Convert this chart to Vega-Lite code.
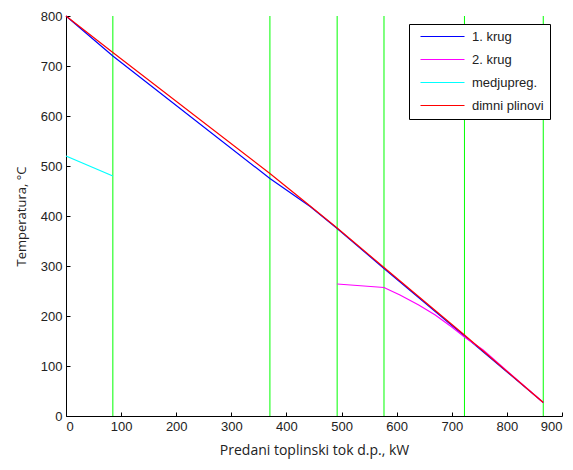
{
  "$schema": "https://vega.github.io/schema/vega-lite/v6.json",
  "width": 496,
  "height": 400,
  "autosize": "none",
  "padding": {"left": 66, "top": 16, "right": 11, "bottom": 54},
  "background": "white",
  "config": {
    "view": {"stroke": null},
    "font": "Liberation Sans",
    "axis": {"grid": false, "domainColor": "black", "tickColor": "black", "labelColor": "#222222", "labelFont": "Liberation Sans", "labelFontSize": 13, "titleFont": "Open Sans", "titleFontWeight": "normal", "titleColor": "#222222", "titleFontSize": 13}
  },
  "datasets": {
    "lines": [
      {"series": "1. krug", "x": 0, "y": 800},
      {"series": "1. krug", "x": 85, "y": 720},
      {"series": "1. krug", "x": 370, "y": 475},
      {"series": "1. krug", "x": 443, "y": 419},
      {"series": "1. krug", "x": 492, "y": 375},
      {"series": "1. krug", "x": 577, "y": 295},
      {"series": "1. krug", "x": 723, "y": 160},
      {"series": "1. krug", "x": 866, "y": 27},
      {"series": "2. krug", "x": 492, "y": 264},
      {"series": "2. krug", "x": 577, "y": 257},
      {"series": "2. krug", "x": 606, "y": 242},
      {"series": "2. krug", "x": 640, "y": 222},
      {"series": "2. krug", "x": 670, "y": 202},
      {"series": "2. krug", "x": 700, "y": 178},
      {"series": "2. krug", "x": 723, "y": 158},
      {"series": "2. krug", "x": 757, "y": 132},
      {"series": "2. krug", "x": 866, "y": 27},
      {"series": "medjupreg.", "x": 0, "y": 520},
      {"series": "medjupreg.", "x": 85, "y": 480},
      {"series": "dimni plinovi", "x": 0, "y": 800},
      {"series": "dimni plinovi", "x": 85, "y": 727},
      {"series": "dimni plinovi", "x": 370, "y": 485},
      {"series": "dimni plinovi", "x": 443, "y": 420},
      {"series": "dimni plinovi", "x": 492, "y": 376},
      {"series": "dimni plinovi", "x": 577, "y": 297},
      {"series": "dimni plinovi", "x": 723, "y": 162},
      {"series": "dimni plinovi", "x": 866, "y": 27}
    ],
    "vlines": [
      {"x": 85}, {"x": 370}, {"x": 492}, {"x": 577}, {"x": 723}, {"x": 866}
    ]
  },
  "layer": [
    {
      "data": {"name": "vlines"},
      "mark": {"type": "rule", "color": "#00ff00", "strokeWidth": 1},
      "encoding": {
        "x": {"field": "x", "type": "quantitative", "scale": {"domain": [0, 900]}}
      }
    },
    {
      "data": {"name": "lines"},
      "mark": {"type": "line", "strokeWidth": 1.2},
      "encoding": {
        "x": {"field": "x", "type": "quantitative", "scale": {"domain": [0, 900], "nice": false},
          "axis": {"values": [0,100,200,300,400,500,600,700,800,900], "tickSize": -4, "labelPadding": 8, "title": "Predani toplinski tok d.p., kW", "titlePadding": 10, "titleFontSize": 14}},
        "y": {"field": "y", "type": "quantitative", "scale": {"domain": [0, 800], "nice": false},
          "axis": {"values": [0,100,200,300,400,500,600,700,800], "tickSize": -4, "labelPadding": 8, "title": "Temperatura, °C", "titlePadding": 12}},
        "color": {"field": "series", "type": "nominal",
          "scale": {"domain": ["1. krug", "2. krug", "medjupreg.", "dimni plinovi"], "range": ["#0000ff", "#ff00ff", "#00ffff", "#ff0000"]},
          "legend": {"title": null, "orient": "none", "legendX": 343, "legendY": 8, "symbolType": "M-4.4,0H4.4", "symbolSize": 100, "symbolOffset": 21, "symbolStrokeWidth": 1.2, "symbolFillColor": "transparent", "strokeColor": "black", "fillColor": "white", "padding": 6, "rowPadding": 9, "labelFontSize": 13, "labelColor": "#222222", "labelFont": "Liberation Sans", "labelOffset": 23, "labelLimit": 200}}
      }
    }
  ]
}
